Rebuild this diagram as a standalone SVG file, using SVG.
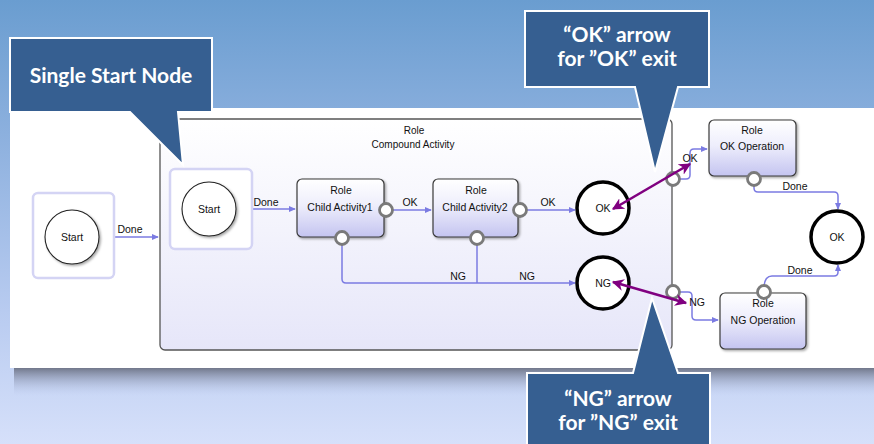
<svg xmlns="http://www.w3.org/2000/svg" width="874" height="444" viewBox="0 0 874 444">
<defs>
<linearGradient id="bg" x1="0" y1="0" x2="0" y2="1">
<stop offset="0" stop-color="#6a9dd0"/>
<stop offset="0.3" stop-color="#8cb0de"/>
<stop offset="0.7" stop-color="#b8cbf0"/>
<stop offset="1" stop-color="#d6e0fa"/>
</linearGradient>
<linearGradient id="shadow" x1="0" y1="0" x2="0" y2="1">
<stop offset="0" stop-color="#666b7c" stop-opacity="1"/>
<stop offset="1" stop-color="#b8c6ea" stop-opacity="0"/>
</linearGradient>
<linearGradient id="compound" x1="0" y1="0" x2="0" y2="1">
<stop offset="0" stop-color="#ffffff"/>
<stop offset="1" stop-color="#e6e6f9"/>
</linearGradient>
<linearGradient id="act" x1="0" y1="0" x2="0" y2="1">
<stop offset="0" stop-color="#ffffff"/>
<stop offset="0.45" stop-color="#eeeefc"/>
<stop offset="1" stop-color="#c4c4f0"/>
</linearGradient>
<marker id="ah" viewBox="0 0 8 8" refX="7" refY="4" markerWidth="7" markerHeight="7" orient="auto" markerUnits="userSpaceOnUse">
<path d="M0,0.5 L8,4 L0,7.5 Z" fill="#7b7be2"/>
</marker>
<marker id="pa" viewBox="0 0 10 10" refX="9" refY="5" markerWidth="12" markerHeight="12" orient="auto-start-reverse" markerUnits="userSpaceOnUse">
<path d="M0,0 L10,5 L0,10 L3,5 Z" fill="#800080"/>
</marker>
<filter id="ds" x="-20%" y="-20%" width="150%" height="150%">
<feDropShadow dx="1.5" dy="1.5" stdDeviation="1" flood-color="#000" flood-opacity="0.35"/>
</filter>
</defs>
<style>
.lbl{font-family:"Liberation Sans",Arial,sans-serif;font-size:10.5px;fill:#111;text-anchor:middle}
.clbl{font-family:"Liberation Sans",Arial,sans-serif;font-size:10px;fill:#111;text-anchor:middle}
.co{font-family:Lato,"Open Sans",sans-serif;font-weight:bold;fill:#ffffff;text-anchor:middle}
.conn{fill:none;stroke:#7b7be2;stroke-width:1.5}
.act{fill:url(#act);stroke:#3a3a3a;stroke-width:1.2}
.port{fill:#ffffff;stroke:#7a7a7a;stroke-width:2.8}
.startbox{fill:#ffffff;stroke:#d4d4f4;stroke-width:2.5}
.startc{fill:#ffffff;stroke:#222;stroke-width:1.1}
.endc{fill:#ffffff;stroke:#000;stroke-width:3.5}
.callout{fill:#365f91;stroke:#ffffff;stroke-width:2}
.purple{stroke:#800080;stroke-width:2.6;fill:none}
</style>

<rect x="0" y="0" width="874" height="444" fill="url(#bg)"/>
<rect x="14" y="366" width="860" height="30" fill="url(#shadow)"/>
<rect x="10" y="108" width="864" height="260" fill="#ffffff"/>

<g id="compound-activity">
<rect x="160" y="119" width="512" height="231" rx="5" fill="url(#compound)" stroke="#555" stroke-width="1.3"/>
<text class="clbl" x="414" y="134">Role</text>
<text class="clbl" x="413" y="148">Compound Activity</text>
</g>

<g id="connectors">
<path class="conn" d="M100,237 H158" marker-end="url(#ah)"/>
<path class="conn" d="M236,209 H295" marker-end="url(#ah)"/>
<path class="conn" d="M392,210 H431" marker-end="url(#ah)"/>
<path class="conn" d="M526,210 H575" marker-end="url(#ah)"/>
<path class="conn" d="M342,244 V279 Q342,283 346,283 H575" marker-end="url(#ah)"/>
<path class="conn" d="M477,244 V283"/>
<path class="conn" d="M679,179 H686 Q690,179 690,175 V153 Q690,149 694,149 H707" marker-end="url(#ah)"/>
<path class="conn" d="M754,185 V188 Q754,192 758,192 H834 Q838,192 838,196 V209" marker-end="url(#ah)"/>
<path class="conn" d="M679,292 H688 Q692,292 692,296 V316 Q692,320 696,320 H718" marker-end="url(#ah)"/>
<path class="conn" d="M764,286 Q765,276 772,276 H834 Q838,276 838,272 V265" marker-end="url(#ah)"/>
<text class="lbl" x="130" y="233">Done</text>
<text class="lbl" x="266" y="206">Done</text>
<text class="lbl" x="410" y="206">OK</text>
<text class="lbl" x="548" y="206">OK</text>
<text class="lbl" x="458" y="280">NG</text>
<text class="lbl" x="527" y="280">NG</text>
<text class="lbl" x="690" y="162">OK</text>
<text class="lbl" x="795" y="190">Done</text>
<text class="lbl" x="697" y="306">NG</text>
<text class="lbl" x="800" y="274">Done</text>
</g>

<g id="outer-start">
<rect class="startbox" x="33" y="193" width="81" height="85" rx="5"/>
<circle class="startc" cx="72" cy="237" r="27" filter="url(#ds)"/>
<text class="lbl" x="72" y="241">Start</text>
</g>

<g id="inner-start">
<rect class="startbox" x="170" y="169" width="82" height="80" rx="5"/>
<circle class="startc" cx="209" cy="209" r="27" filter="url(#ds)"/>
<text class="lbl" x="209" y="213">Start</text>
</g>

<g id="child-activity1">
<rect class="act" x="297" y="179" width="87" height="58" rx="5" filter="url(#ds)"/>
<text class="lbl" x="341" y="194">Role</text>
<text class="lbl" x="340" y="211">Child Activity1</text>
<circle class="port" cx="386" cy="210" r="6.5"/>
<circle class="port" cx="342" cy="238" r="6.5"/>
</g>

<g id="child-activity2">
<rect class="act" x="433" y="179" width="85" height="58" rx="5" filter="url(#ds)"/>
<text class="lbl" x="476" y="194">Role</text>
<text class="lbl" x="475" y="211">Child Activity2</text>
<circle class="port" cx="520" cy="210" r="6.5"/>
<circle class="port" cx="477" cy="238" r="6.5"/>
</g>

<g id="inner-ok-end">
<circle class="endc" cx="603" cy="208" r="26"/>
<text class="lbl" x="603" y="212">OK</text>
</g>

<g id="inner-ng-end">
<circle class="endc" cx="603" cy="283" r="26"/>
<text class="lbl" x="603" y="287">NG</text>
</g>

<g id="exit-ports">
<circle class="port" cx="673" cy="179" r="6.5"/>
<circle class="port" cx="673" cy="292" r="6.5"/>
</g>

<g id="ok-operation">
<rect class="act" x="709" y="120" width="87" height="56" rx="5" filter="url(#ds)"/>
<text class="lbl" x="752" y="134">Role</text>
<text class="lbl" x="752" y="150">OK Operation</text>
<circle class="port" cx="754" cy="179" r="6.5"/>
</g>

<g id="ng-operation">
<rect class="act" x="720" y="293" width="86" height="56" rx="5" filter="url(#ds)"/>
<text class="lbl" x="763" y="307">Role</text>
<text class="lbl" x="763" y="324">NG Operation</text>
<circle class="port" cx="764" cy="292" r="6.5"/>
</g>

<g id="final-ok-end">
<circle class="endc" cx="837" cy="237" r="26"/>
<text class="lbl" x="837" y="241">OK</text>
</g>

<g id="callout-start">
<path class="callout" d="M10,38 H212 V112 H178 L183,165 L130,112 H10 Z"/>
<text class="co" x="111" y="83" font-size="21">Single Start Node</text>
</g>

<g id="callout-ok">
<path class="callout" d="M525,11 H709 V87 H678 L655,172 L635,87 H525 Z"/>
<text class="co" x="617" y="42" font-size="21">“OK” arrow</text>
<text class="co" x="617" y="66" font-size="21">for ”OK” exit</text>
</g>

<g id="callout-ng">
<path class="callout" d="M527,373 H633 L652,298 L678,373 H710 V450 H527 Z"/>
<text class="co" x="618" y="406" font-size="21">“NG” arrow</text>
<text class="co" x="618" y="430" font-size="21">for ”NG” exit</text>
</g>

<g id="purple-arrows">
<line class="purple" x1="613" y1="209" x2="690" y2="164" marker-start="url(#pa)" marker-end="url(#pa)"/>
<line class="purple" x1="613" y1="282" x2="686" y2="303" marker-start="url(#pa)" marker-end="url(#pa)"/>
</g>
</svg>
